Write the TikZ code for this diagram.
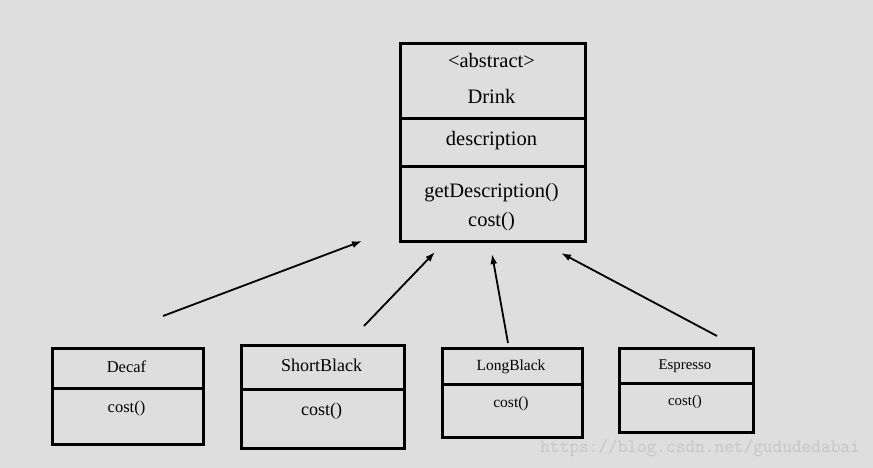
\documentclass[tikz,border=0pt]{standalone}
\usepackage{fontspec}
\setmainfont{Liberation Serif}
\usepackage{tikz}
\usetikzlibrary{arrows.meta}
\definecolor{bgcol}{RGB}{222,222,222}
\definecolor{markcol}{RGB}{198,198,198}

\begin{document}
\begin{tikzpicture}[x=1pt,y=-1pt,
  part/.style={draw,line width=2.6pt,inner sep=0pt,anchor=north west},
  txt/.style={anchor=base,inner sep=0pt},
  drinkfont/.style={txt,font=\fontsize{20.5}{24}\selectfont},
  inherit/.style={line width=1.8pt,-{Latex[length=10pt,width=7pt]}}]
\fill[bgcol] (0,0) rectangle (873,468);
\useasboundingbox (0,0) rectangle (873,468);
% Drink
\node[part,minimum width=185pt,minimum height=75pt] (drinkName) at (399,42) {};
\node[part,minimum width=185pt,minimum height=48pt] (drinkAttr) at (399,117) {};
\node[part,minimum width=185pt,minimum height=75pt] (drinkOps) at (399,165) {};
\node[drinkfont] (drinkStereo) at (491.5,68) {<abstract>};
\node[drinkfont] (drinkTitle) at (491.5,104) {Drink};
\node[drinkfont] (drinkDesc) at (491.5,145.5) {description};
\node[drinkfont] (drinkGet) at (491.5,197) {getDescription()};
\node[drinkfont] (drinkCost) at (491.5,226) {cost()};
% Decaf
\node[part,minimum width=151pt,minimum height=40pt] (decafName) at (51,347) {};
\node[part,minimum width=151pt,minimum height=56pt] (decafOps) at (51,387) {};
\node[txt,font=\fontsize{16.5}{20}\selectfont] (decafTitle) at (126.5,372) {Decaf};
\node[txt,font=\fontsize{16.5}{20}\selectfont] (decafCost) at (126.5,412) {cost()};
% ShortBlack
\node[part,minimum width=163pt,minimum height=44pt] (shortName) at (240,344) {};
\node[part,minimum width=163pt,minimum height=59pt] (shortOps) at (240,388) {};
\node[txt,font=\fontsize{18}{22}\selectfont] (shortTitle) at (321.5,371.5) {ShortBlack};
\node[txt,font=\fontsize{18}{22}\selectfont] (shortCost) at (321.5,415) {cost()};
% LongBlack
\node[part,minimum width=140pt,minimum height=36pt] (longName) at (441,347) {};
\node[part,minimum width=140pt,minimum height=53pt] (longOps) at (441,383) {};
\node[txt,font=\fontsize{15.5}{19}\selectfont] (longTitle) at (511,370.5) {LongBlack};
\node[txt,font=\fontsize{15.5}{19}\selectfont] (longCost) at (511,407) {cost()};
% Espresso
\node[part,minimum width=134pt,minimum height=35pt] (espName) at (618,347) {};
\node[part,minimum width=134pt,minimum height=49pt] (espOps) at (618,382) {};
\node[txt,font=\fontsize{14.8}{18}\selectfont] (espTitle) at (685,369) {Espresso};
\node[txt,font=\fontsize{14.8}{18}\selectfont] (espCost) at (685,405) {cost()};
% arrows
\coordinate (decafTail) at (163,316);
\coordinate (decafHead) at (362,241);
\coordinate (shortTail) at (364,326);
\coordinate (shortHead) at (435,252);
\coordinate (longTail) at (508,343);
\coordinate (longHead) at (492,254);
\coordinate (espTail) at (717,336);
\coordinate (espHead) at (561,253);
\draw[inherit] (decafTail) -- (decafHead);
\draw[inherit] (shortTail) -- (shortHead);
\draw[inherit] (longTail) -- (longHead);
\draw[inherit] (espTail) -- (espHead);
\node[txt,anchor=base east,text=markcol,font=\ttfamily\fontsize{18.8}{22}\selectfont] (mark) at (860,452) {https://blog.csdn.net/gududedabai};
\end{tikzpicture}
\end{document}
